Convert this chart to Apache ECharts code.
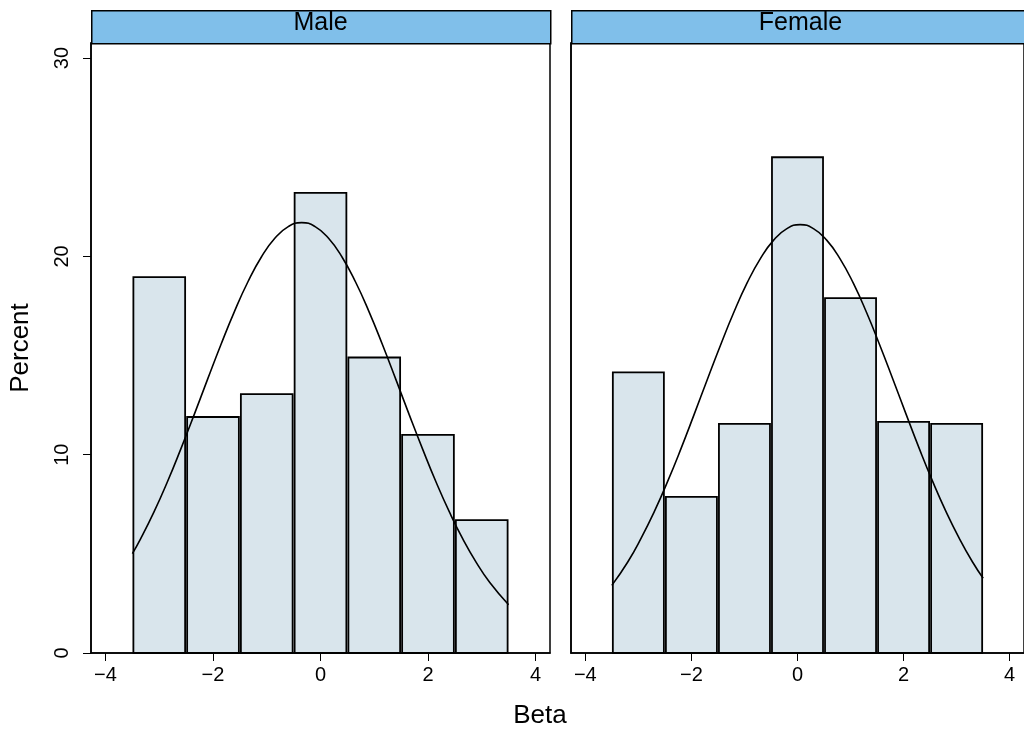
<!DOCTYPE html>
<html>
<head>
<meta charset="utf-8">
<title>Beta histogram by sex</title>
<script src="https://cdn.jsdelivr.net/npm/echarts@6/dist/echarts.min.js"></script>
<style>
  html, body { margin: 0; padding: 0; background: #fff; }
  #main { width: 1024px; height: 732px; }
</style>
</head>
<body>
<div id="main"></div>
<script type="text/javascript">
// bin centres (width 1) and percent per bin
var binCenters = [-3, -2, -1, 0, 1, 2, 3];
var malePct = [18.95, 11.9, 13.05, 23.2, 14.9, 11.0, 6.7];
var femalePct = [14.15, 7.87, 11.55, 25.0, 17.9, 11.65, 11.55];

// normal curves, points
var maleCurveX = [-3.5, -3.35, -3.1, -2.85, -2.6, -2.35, -2.1, -1.85, -1.6, -1.35, -1.1, -0.85, -0.6,
    -0.35, -0.1, 0.15, 0.4, 0.65, 0.9, 1.15, 1.4, 1.65, 1.9, 2.15, 2.4, 2.65, 2.9, 3.15, 3.5];
var maleCurve = [5.01, 5.74, 7.10, 8.62, 10.28, 12.02, 13.81, 15.57, 17.23, 18.72, 19.97, 20.91, 21.50,
    21.70, 21.50, 20.91, 19.97, 18.72, 17.23, 15.57, 13.81, 12.02, 10.28, 8.62, 7.10, 5.74, 4.56, 3.55, 2.43];
var femaleCurveX = [-3.5, -3.2, -2.95, -2.7, -2.45, -2.2, -1.95, -1.7, -1.45, -1.2, -0.95, -0.7, -0.45, -0.2,
    0.05, 0.3, 0.55, 0.8, 1.05, 1.3, 1.55, 1.8, 2.05, 2.3, 2.55, 2.8, 3.05, 3.3, 3.5];
var femaleCurve = [3.41, 4.59, 5.78, 7.13, 8.64, 10.28, 12.02, 13.79, 15.53, 17.18, 18.66, 19.89, 20.82, 21.40,
    21.60, 21.40, 20.82, 19.89, 18.66, 17.18, 15.53, 13.79, 12.02, 10.28, 8.64, 7.13, 5.78, 4.59, 3.77];

var panels = ['Male', 'Female'];
var xTicks = [-4, -2, 0, 2, 4];
var yTicks = [0, 10, 20, 30];

var font = 'Liberation Sans, Arial, Helvetica, sans-serif';

function pairs(xs, ys) {
    return xs.map(function (x, i) { return [x, ys[i]]; });
}

function barItem(params, api) {
    var x = api.value(0), y = api.value(1);
    var a = api.coord([x - 0.5, y]);
    var b = api.coord([x + 0.5, 0]);
    return {
        type: 'rect',
        shape: { x: a[0] + 1, y: a[1], width: b[0] - a[0] - 2, height: b[1] - a[1] },
        style: { fill: '#d9e5ec', stroke: '#000', lineWidth: 1.8 }
    };
}

var gridLefts = [91, 571];
var grids = [], xAxes = [], yAxes = [], series = [], graphics = [];
var allBars = [malePct, femalePct];
var allCurves = [pairs(maleCurveX, maleCurve), pairs(femaleCurveX, femaleCurve)];

gridLefts.forEach(function (left, i) {
    grids.push({
        left: left, top: 43, width: 459, height: 610,
        show: true, borderColor: '#000', borderWidth: 1.5, backgroundColor: '#fff'
    });
    xAxes.push({
        type: 'value', gridIndex: i, min: -4.27, max: 4.27,
        splitLine: { show: false },
        axisLine: { show: true, onZero: false, lineStyle: { color: '#000', width: 1.5 } },
        axisTick: { show: true, length: 8, customValues: xTicks, lineStyle: { color: '#000', width: 1 } },
        axisLabel: { customValues: xTicks, color: '#000', fontSize: 20, fontFamily: font, margin: 12,
            formatter: function (v) { return v < 0 ? '\u2212' + Math.abs(v) : String(v); } }
    });
    yAxes.push({
        type: 'value', gridIndex: i, min: 0, max: 30.76,
        splitLine: { show: false },
        axisLine: { show: true, onZero: false, lineStyle: { color: '#000', width: 1.5 } },
        axisTick: { show: i === 0, length: 8, customValues: yTicks, lineStyle: { color: '#000', width: 1 } },
        axisLabel: { show: i === 0, customValues: yTicks, color: '#000', fontSize: 20, fontFamily: font,
            rotate: 90, margin: 19 }
    });
    series.push({
        type: 'custom', xAxisIndex: i, yAxisIndex: i,
        renderItem: barItem, data: pairs(binCenters, allBars[i]), z: 2
    });
    series.push({
        type: 'line', xAxisIndex: i, yAxisIndex: i, smooth: true, symbol: 'none',
        lineStyle: { color: '#000', width: 1.6 }, data: allCurves[i], z: 3
    });
    // strip header
    graphics.push({
        type: 'rect', left: left, top: 10,
        shape: { width: 459, height: 33 },
        style: { fill: '#80bfea', stroke: '#000', lineWidth: 1.5 }
    });
    graphics.push({
        type: 'text', x: left + 229.5, y: 23,
        style: { text: panels[i], fill: '#000', font: '25px ' + font, textAlign: 'center', textVerticalAlign: 'middle' }
    });
});

graphics.push({
    type: 'text', x: 540, y: 716,
    style: { text: 'Beta', fill: '#000', font: '26px ' + font, textAlign: 'center', textVerticalAlign: 'middle' }
});
graphics.push({
    type: 'text', x: 21, y: 348, rotation: Math.PI / 2,
    style: { text: 'Percent', fill: '#000', font: '26px ' + font, textAlign: 'center', textVerticalAlign: 'middle' }
});

var myChart = echarts.init(document.getElementById('main'));
myChart.setOption({
    backgroundColor: '#fff',
    animation: false,
    grid: grids,
    xAxis: xAxes,
    yAxis: yAxes,
    series: series,
    graphic: graphics
});
</script>
</body>
</html>
